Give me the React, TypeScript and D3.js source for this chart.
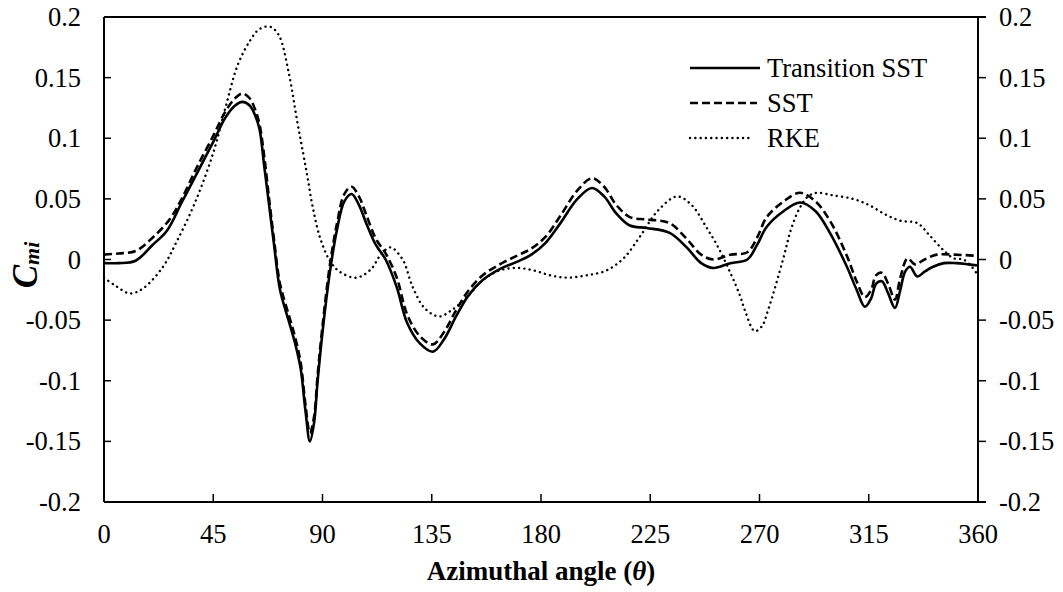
import React, { useEffect, useRef } from "react";
import * as d3 from "d3";

const xTicks = [0, 45, 90, 135, 180, 225, 270, 315, 360];
const yTicks = [-0.2, -0.15, -0.1, -0.05, 0, 0.05, 0.1, 0.15, 0.2];
const yTickLabels = ["-0.2", "-0.15", "-0.1", "-0.05", "0", "0.05", "0.1", "0.15", "0.2"];

const transTheta = [0, 6, 13, 20, 26, 32, 38, 45, 50, 54, 57, 60, 62, 64, 66, 68, 70, 72.5, 76, 78.7, 81, 83, 84.8, 86.5, 88, 90, 93, 96, 99, 102, 105, 108, 112, 116, 120.6, 124.8, 130, 135.5, 140, 145, 150, 156, 163, 170, 176, 182, 188, 195, 201, 206, 211, 216.6, 223.6, 233, 240, 246, 251, 258, 265, 269, 273, 280, 286.7, 293, 299, 306, 310, 313.4, 316, 318, 320.4, 323, 325.8, 328, 330, 332, 335, 338, 341.5, 346, 351, 356, 360];
const transValues = [-0.003, -0.003, -0.001, 0.012, 0.024, 0.047, 0.07, 0.097, 0.117, 0.127, 0.13, 0.127, 0.12, 0.108, 0.077, 0.045, 0.013, -0.025, -0.05, -0.069, -0.09, -0.125, -0.15, -0.135, -0.1, -0.06, -0.011, 0.025, 0.048, 0.054, 0.045, 0.03, 0.012, 0.0, -0.023, -0.052, -0.069, -0.076, -0.066, -0.047, -0.03, -0.017, -0.008, -0.002, 0.004, 0.014, 0.03, 0.05, 0.059, 0.052, 0.038, 0.028, 0.026, 0.022, 0.01, -0.003, -0.007, -0.003, 0.0, 0.012, 0.027, 0.04, 0.047, 0.04, 0.022, -0.006, -0.025, -0.039, -0.032, -0.02, -0.018, -0.028, -0.04, -0.025, -0.01, -0.006, -0.014, -0.01, -0.006, -0.003, -0.003, -0.004, -0.005];

const sstTheta = [0, 6, 13, 20, 27, 32, 38, 45, 50, 54, 57, 60, 62, 64, 66, 68, 70, 72.5, 76, 78.7, 81, 83, 84.8, 86.5, 88, 90, 93, 96, 99, 102, 105, 108, 112, 116, 120.6, 124.8, 130, 135.5, 140, 145, 150, 156, 163, 170, 176, 182, 188, 195, 201, 206, 211, 216.6, 223.6, 233, 240, 246, 251, 258, 265, 269, 273, 280, 286.7, 293, 299, 306, 310, 313.4, 316, 318, 320.4, 323, 325.8, 328, 331, 334, 338, 343, 350, 360];
const sstValues = [0.004, 0.005, 0.007, 0.018, 0.033, 0.05, 0.075, 0.102, 0.122, 0.133, 0.137, 0.133, 0.125, 0.112, 0.085, 0.05, 0.017, -0.02, -0.045, -0.064, -0.085, -0.12, -0.143, -0.13, -0.095, -0.055, -0.005, 0.03, 0.054, 0.06, 0.052, 0.037, 0.017, 0.005, -0.015, -0.045, -0.063, -0.07, -0.06, -0.042, -0.026, -0.013, -0.004, 0.003, 0.009, 0.019, 0.036, 0.057, 0.067, 0.06, 0.045, 0.035, 0.033, 0.03, 0.017, 0.004, 0.0, 0.004, 0.006, 0.018, 0.035, 0.048, 0.055, 0.048, 0.032, 0.003, -0.018, -0.031, -0.025, -0.013, -0.011, -0.02, -0.033, -0.015, 0.001, -0.004, 0.0, 0.004, 0.004, 0.003];

const rkeTheta = [0, 5, 10.7, 16, 24.3, 30, 37.5, 45, 50, 55, 60, 64, 68.4, 72, 76, 79.5, 82, 84, 86, 89, 93, 97, 104, 110, 114, 118, 123, 127, 132, 138, 143, 149.5, 156, 163, 170, 177, 183.7, 190.7, 199, 207, 214, 220.8, 228, 236, 242, 248, 253, 258, 262, 264, 268, 271, 273.5, 279.7, 283, 286.7, 290, 293.6, 300, 308.5, 315, 322, 328, 335, 340, 345.6, 350, 354, 357, 360];
const rkeValues = [-0.015, -0.022, -0.028, -0.024, -0.006, 0.015, 0.047, 0.088, 0.125, 0.16, 0.18, 0.19, 0.192, 0.185, 0.155, 0.115, 0.088, 0.066, 0.043, 0.018, -0.001, -0.01, -0.015, -0.008, 0.004, 0.01, 0.0, -0.022, -0.04, -0.047, -0.042, -0.031, -0.017, -0.009, -0.007, -0.009, -0.013, -0.015, -0.013, -0.009, 0.001, 0.019, 0.04, 0.052, 0.045, 0.027, 0.01, -0.011, -0.03, -0.042, -0.059, -0.055, -0.042, 0.0, 0.025, 0.043, 0.052, 0.055, 0.053, 0.05, 0.045, 0.037, 0.032, 0.03, 0.02, 0.008, 0.001, 0.0, -0.005, -0.013];

const seriesNames = ["Transition SST", "SST", "RKE"];

const FONT = "Times New Roman";

export default function App() {
  const ref = useRef<SVGSVGElement | null>(null);

  useEffect(() => {
    const W = 1063, H = 592;
    const left = 104, right = 978, top = 17, bottom = 502;
    const svg = d3.select(ref.current);
    svg.selectAll("*").remove();
    svg.attr("width", W).attr("height", H);
    svg.append("rect").attr("width", W).attr("height", H).attr("fill", "#fff");

    const x = d3.scaleLinear().domain([0, 360]).range([left, right]);
    const y = d3.scaleLinear().domain([-0.2, 0.2]).range([bottom, top]);
    const line = d3.line<[number, number]>()
      .x(d => x(d[0])).y(d => y(d[1]))
      .curve(d3.curveCatmullRom.alpha(0.5));

    const styles = [
      { dash: null as string | null, width: 2.6, cap: "butt" },
      { dash: "8,4", width: 2.6, cap: "butt" },
      { dash: "0.1,5.2", width: 2.4, cap: "round" },
    ];
    const data = [
      transTheta.map((t, i) => [t, transValues[i]] as [number, number]),
      sstTheta.map((t, i) => [t, sstValues[i]] as [number, number]),
      rkeTheta.map((t, i) => [t, rkeValues[i]] as [number, number]),
    ];
    data.forEach((pts, i) => {
      svg.append("path").attr("d", line(pts) || "").attr("fill", "none").attr("stroke", "#000")
        .attr("stroke-width", styles[i].width)
        .attr("stroke-dasharray", styles[i].dash)
        .attr("stroke-linecap", styles[i].cap)
        .attr("stroke-linejoin", "round");
    });

    const ln = (x1: number, y1: number, x2: number, y2: number, w: number) =>
      svg.append("line").attr("x1", x1).attr("y1", y1).attr("x2", x2).attr("y2", y2)
        .attr("stroke", "#000").attr("stroke-width", w);
    ln(left, top, right + 8, top, 2);
    ln(left, bottom, right + 8, bottom, 2);
    ln(left, top, left, bottom, 2);
    ln(right, top, right, bottom, 2);

    const txt = (s: string, tx: number, ty: number, size: number, anchor: string) =>
      svg.append("text").attr("x", tx).attr("y", ty).attr("font-size", size)
        .attr("text-anchor", anchor).style("font-family", FONT).text(s);

    yTicks.forEach((t, i) => {
      ln(left, y(t), left + 7, y(t), 1.5);
      ln(right, y(t), right + 8, y(t), 1.5);
      txt(yTickLabels[i], 81, y(t) + 9, 26.5, "end");
      txt(yTickLabels[i], 999, y(t) + 9, 26.5, "start");
    });
    xTicks.forEach(t => {
      ln(x(t), bottom, x(t), bottom - 8, 1.5);
      txt(String(t), x(t), 543, 26.5, "middle");
    });

    const xt = svg.append("text").attr("x", (left + right) / 2).attr("y", 580)
      .attr("text-anchor", "middle").attr("font-size", 27).attr("font-weight", "bold")
      .style("font-family", FONT);
    xt.append("tspan").text("Azimuthal angle (");
    xt.append("tspan").attr("font-style", "italic").text("θ");
    xt.append("tspan").text(")");

    const yt = svg.append("text").attr("transform", "translate(37,265) rotate(-90)")
      .attr("text-anchor", "middle").attr("font-size", 35).attr("font-weight", "bold")
      .attr("font-style", "italic").style("font-family", FONT);
    yt.append("tspan").text("C");
    yt.append("tspan").attr("font-size", 22).attr("dy", 2).text("mi");

    seriesNames.forEach((n, i) => {
      const ly = 68 + i * 35;
      const len = i === 2 ? 62 : i === 1 ? 67 : 70;
      svg.append("line").attr("x1", 690).attr("x2", 690 + len).attr("y1", ly).attr("y2", ly)
        .attr("stroke", "#000").attr("stroke-width", styles[i].width)
        .attr("stroke-dasharray", styles[i].dash).attr("stroke-linecap", styles[i].cap);
      txt(n, 767, ly + 9, 26.5, "start");
    });
  }, []);

  return (
    <div style={{ position: "absolute", left: 0, top: 0 }}>
      <svg ref={ref} width={1063} height={592} />
    </div>
  );
}
